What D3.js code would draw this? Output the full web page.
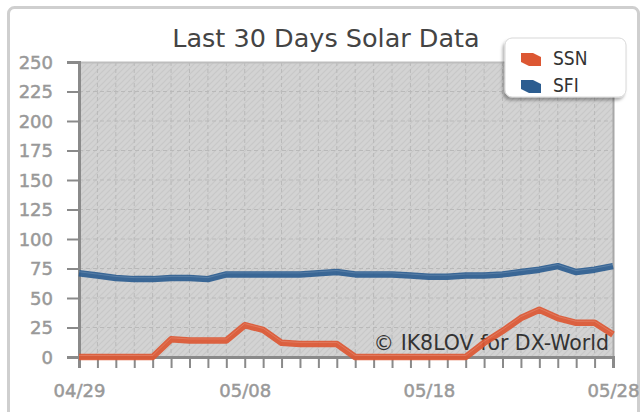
<!DOCTYPE html>
<html>
<head>
<meta charset="utf-8">
<script src="https://cdn.jsdelivr.net/npm/d3@7"></script>
<style>
  body { margin: 0; background: #fff; }
  svg { display: block; }
</style>
</head>
<body>
<div id="chart"></div>
<script>
// data
const days = ["04/29","04/30","05/01","05/02","05/03","05/04","05/05","05/06","05/07","05/08",
              "05/09","05/10","05/11","05/12","05/13","05/14","05/15","05/16","05/17","05/18",
              "05/19","05/20","05/21","05/22","05/23","05/24","05/25","05/26","05/27","05/28"];
const ssn = [0,0,0,0,0,15,14,14,14,27,23,12,11,11,11,0,0,0,0,0,0,0,12,22,33,40,33,29,29,19];
const sfi = [71,69,67,66,66,67,67,66,70,70,70,70,70,71,72,70,70,70,69,68,68,69,69,70,72,74,77,72,74,77];
const yTicks = [0,25,50,75,100,125,150,175,200,225,250];
const xLabels = ["04/29","05/08","05/18","05/28"];
const seriesNames = ["SSN","SFI"];
const seriesColors = ["#dc5733","#2c5d90"];

const width = 640, height = 412;
const margin = {top: 62, right: 27, bottom: 55, left: 79};

const svg = d3.select("#chart").append("svg")
    .attr("width", width)
    .attr("height", height);

const defs = svg.append("defs");
const hatch = defs.append("pattern")
    .attr("id", "hatch")
    .attr("patternUnits", "userSpaceOnUse")
    .attr("width", 6).attr("height", 6);
hatch.append("rect").attr("width", 6).attr("height", 6).attr("fill", "#d3d3d3");
hatch.append("path").attr("d", "M-1,7 L7,-1 M-1,1 L1,-1 M5,7 L7,5")
    .attr("stroke", "#c8c8c8").attr("stroke-width", 1.2);

const sh = defs.append("filter").attr("id", "shadow")
    .attr("x", "-15%").attr("y", "-15%").attr("width", "130%").attr("height", "140%");
sh.append("feDropShadow").attr("dx", -2).attr("dy", 3).attr("stdDeviation", 1.5)
    .attr("flood-color", "#000").attr("flood-opacity", 0.3);

// outer frame
svg.append("rect")
    .attr("x", 8.5).attr("y", 7.5)
    .attr("width", 630).attr("height", 420)
    .attr("rx", 6)
    .attr("fill", "#fff")
    .attr("stroke", "#cfcfcf")
    .attr("stroke-width", 3);

const x = d3.scaleLinear()
    .domain([0, days.length - 1])
    .range([margin.left, width - margin.right]);
const y = d3.scaleLinear()
    .domain([0, 250])
    .range([height - margin.bottom, margin.top]);

const x0 = x.range()[0], x1 = x.range()[1];
const y0 = y.range()[0], y1 = y.range()[1];

// plot background
svg.append("rect")
    .attr("x", x0).attr("y", y1)
    .attr("width", x1 - x0).attr("height", y0 - y1)
    .attr("fill", "url(#hatch)");

// grid
const grid = svg.append("g").attr("stroke", "#b9b9b9").attr("stroke-dasharray", "4,3");
grid.selectAll("line.v").data(d3.range(1, days.length - 1)).enter().append("line")
    .attr("x1", d => x(d)).attr("x2", d => x(d))
    .attr("y1", y1).attr("y2", y0);
grid.selectAll("line.h").data(yTicks.slice(1, -1)).enter().append("line")
    .attr("x1", x0).attr("x2", x1)
    .attr("y1", d => y(d)).attr("y2", d => y(d));

// plot border (top light, right darker)
svg.append("line").attr("x1", x0).attr("x2", x1).attr("y1", y1 + 0.5).attr("y2", y1 + 0.5)
    .attr("stroke", "#bdbdbd").attr("stroke-width", 2);
svg.append("line").attr("x1", x1 + 0.5).attr("x2", x1 + 0.5).attr("y1", y1).attr("y2", y0)
    .attr("stroke", "#a8a8a8").attr("stroke-width", 2);

// axes
const yAxis = svg.append("g")
    .attr("transform", `translate(${x0},0)`)
    .call(d3.axisLeft(y).tickValues(yTicks).tickSize(12).tickPadding(14));
const xAxis = svg.append("g")
    .attr("transform", `translate(0,${y0})`)
    .call(d3.axisBottom(x).tickValues(d3.range(days.length)).tickSize(11)
        .tickFormat(i => xLabels.includes(days[i]) ? days[i] : "").tickPadding(16));

[yAxis, xAxis].forEach(ax => {
    ax.select(".domain").attr("stroke", "#8a8a8a").attr("stroke-width", 3);
    ax.selectAll(".tick line").attr("stroke", "#8a8a8a").attr("stroke-width", 2);
    ax.selectAll("text")
        .attr("fill", "#999")
        .attr("stroke", "#999")
        .attr("stroke-width", 0.5)
        .style("font-family", "'DejaVu Sans', sans-serif")
        .style("font-size", "18px");
});
yAxis.selectAll("text").attr("dy", "0.36em");

// copyright
svg.append("text")
    .attr("x", 609).attr("y", 350)
    .attr("text-anchor", "end")
    .attr("fill", "#333")
    .style("font-family", "'DejaVu Sans', sans-serif")
    .style("font-size", "20.5px")
    .text("\u00A9 IK8LOV for DX-World");

// lines
const line = d3.line()
    .x((d, i) => x(i))
    .y(d => y(d));

[sfi, ssn].forEach((vals, k) => {
    const color = k === 0 ? seriesColors[1] : seriesColors[0];
    svg.append("path")
        .datum(vals)
        .attr("fill", "none")
        .attr("stroke", color)
        .attr("stroke-width", 6.5)
        .attr("stroke-linejoin", "round")
        .attr("opacity", 0.92)
        .attr("d", line);
    svg.append("path")
        .datum(vals)
        .attr("fill", "none")
        .attr("stroke", "#fff")
        .attr("stroke-width", 1)
        .attr("opacity", 0.15)
        .attr("transform", "translate(0,-1.5)")
        .attr("d", line);
});

// title
svg.append("text")
    .attr("x", 326).attr("y", 47)
    .attr("text-anchor", "middle")
    .attr("fill", "#444")
    .style("font-family", "'DejaVu Sans', sans-serif")
    .style("font-size", "25.5px")
    .text("Last 30 Days Solar Data");

// legend
const legend = svg.append("g").attr("transform", "translate(505,38)");
legend.append("rect")
    .attr("width", 121).attr("height", 59)
    .attr("rx", 7)
    .attr("fill", "#fff")
    .attr("stroke", "#d8d8d8")
    .attr("filter", "url(#shadow)");
seriesNames.forEach((name, i) => {
    const g = legend.append("g").attr("transform", `translate(16,${21 + i * 27})`);
    g.append("path")
        .attr("d", "M0,-6 L12,-6 L20,-2 L20,7 L8,7 L0,3 Z")
        .attr("fill", seriesColors[i]);
    g.append("text")
        .attr("x", 32).attr("y", 6)
        .attr("fill", "#333")
        .style("font-family", "'DejaVu Sans Condensed', 'DejaVu Sans', sans-serif")
        .style("font-size", "19px")
        .text(name);
});
</script>
</body>
</html>
